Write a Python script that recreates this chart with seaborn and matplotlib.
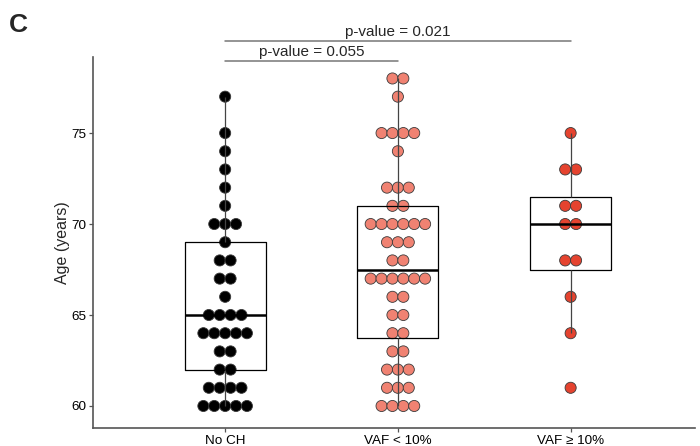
import numpy as np
import pandas as pd
import matplotlib
matplotlib.use("Agg")
import matplotlib.pyplot as plt
import seaborn as sns

# ---- data (ages per group) ----
groups = ["No CH", "VAF < 10%", "VAF \u2265 10%"]
no_ch = ([60]*5 + [61]*4 + [62]*2 + [63]*2 + [64]*5 + [65]*4 + [66]*1 + [67]*2 +
         [68]*2 + [69]*1 + [70]*3 + [71, 72, 73, 74, 75, 77])
vaf_low = ([60]*4 + [61]*3 + [62]*3 + [63]*2 + [64]*2 + [65]*2 + [66]*2 + [67]*6 +
           [68]*2 + [69]*3 + [70]*6 + [71]*2 + [72]*3 + [74]*1 + [75]*4 + [77]*1 + [78]*2)
vaf_high = [61, 64, 66, 68, 68, 70, 70, 71, 71, 73, 73, 75]
colors = ["#000000", "#F08272", "#E5432F"]
p_labels = ["p-value = 0.055", "p-value = 0.021"]
p_pairs = [(0, 1), (0, 2)]
y_ticks = [60, 65, 70, 75]

# ---- long table ----
rows = []
for g, vals in zip(groups, [no_ch, vaf_low, vaf_high]):
    for v in vals:
        rows.append((g, v))
df = pd.DataFrame(rows, columns=["group", "age"])

# dot-plot stacking: centered rows of touching dots
step = 0.063
df["gidx"] = df["group"].map({g: i for i, g in enumerate(groups)})
df["k"] = df.groupby(["group", "age"]).cumcount()
df["n"] = df.groupby(["group", "age"])["age"].transform("size")
df["xpos"] = df["gidx"] + (df["k"] - (df["n"] - 1) / 2) * step

sns.set_style("white")
plt.rcParams["font.family"] = ["Liberation Sans", "DejaVu Sans"]

fig = plt.figure(figsize=(7.0, 4.46), dpi=100)
ax = fig.add_axes([93/700, 1-428/446, 602/700, (428-57)/446])

sns.scatterplot(data=df, x="xpos", y="age", hue="group", hue_order=groups,
                palette=colors, s=64, edgecolor="#3a3a3a", linewidth=0.6,
                legend=False, ax=ax, zorder=1)

sns.boxplot(data=df, x="group", y="age", order=groups, width=0.47, fill=False,
            color="black", linecolor="black", showfliers=False, showcaps=False,
            linewidth=0.9, native_scale=False, ax=ax,
            boxprops=dict(zorder=3),
            whiskerprops=dict(color="#444444", linewidth=0.9, zorder=3),
            medianprops=dict(color="black", linewidth=1.8, zorder=4))

ax.set_xlim(-0.765, 2.72)
ax.set_ylim(58.79, 79.18)
ax.set_xticks(range(len(groups)))
ax.set_xticklabels(groups)
ax.set_yticks(y_ticks)
ax.set_xlabel("")
ax.set_ylabel("Age (years)", fontsize=11.5, labelpad=1)

for s in ["top", "right"]:
    ax.spines[s].set_visible(False)
for s in ["left", "bottom"]:
    ax.spines[s].set_color("#555555")
    ax.spines[s].set_linewidth(1.2)
ax.tick_params(axis="both", length=3, width=0.9, color="#555555",
               labelsize=9.7, labelcolor="black", pad=2, left=True, bottom=True)

# significance brackets
bracket_y = [78.96, 80.07]
for (a, b), lab, yb in zip(p_pairs, p_labels, bracket_y):
    ax.plot([a, b], [yb, yb], color="#777777", lw=1.1, clip_on=False, zorder=5)
    ax.text((a + b) / 2, yb + 0.12, lab, ha="center", va="bottom", fontsize=11,
            clip_on=False)

fig.text(9/700, 1-25/446, "C", fontsize=19, fontweight="bold", va="center", ha="left")

fig.savefig("out.png", dpi=100)
